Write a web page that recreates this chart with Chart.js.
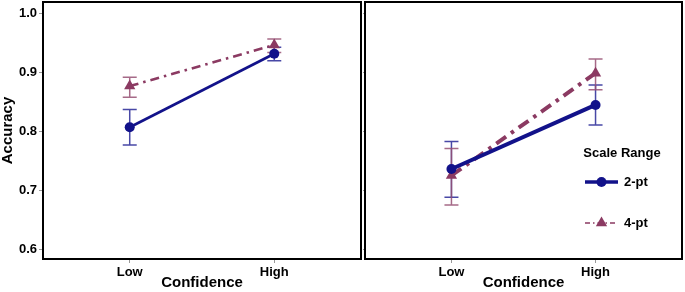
<!DOCTYPE html>
<html>
<head>
<meta charset="utf-8">
<script src="https://cdn.jsdelivr.net/npm/chart.js@4.4.1/dist/chart.umd.min.js"></script>
<style>
    html, body { margin: 0; padding: 0; background: #fff; }
    #wrap { position: relative; width: 685px; height: 292px; }
    #c1 { position: absolute; left: 0; top: 0; }
    #c2 { position: absolute; left: 363px; top: 0; }
</style>
</head>
<body>
<div id="wrap">
    <canvas id="c1" width="363" height="292"></canvas>
    <canvas id="c2" width="322" height="292"></canvas>
</div>
<script>
const categories = ["Low", "High"];
const yTicks = [0.6, 0.7, 0.8, 0.9, 1.0];

// panel 1
const p1TwoPt = [0.807, 0.932];
const p1TwoPtLow = [0.777, 0.920];
const p1TwoPtHigh = [0.837, 0.943];
const p1FourPt = [0.877, 0.947];
const p1FourPtLow = [0.858, 0.934];
const p1FourPtHigh = [0.892, 0.957];

// panel 2
const p2TwoPt = [0.736, 0.845];
const p2TwoPtLow = [0.688, 0.811];
const p2TwoPtHigh = [0.783, 0.879];
const p2FourPt = [0.725, 0.899];
const p2FourPtLow = [0.675, 0.871];
const p2FourPtHigh = [0.771, 0.923];

const NAVY = "#12128a";
const PLUM = "#8b3a62";
const FONT = "'Liberation Sans', Arial, sans-serif";

const toXY = (vals) => vals.map((v, i) => ({ x: i + 1, y: v }));

const noPad = (s) => {
    s.paddingTop = 0;
    s.paddingBottom = 0;
    s.paddingLeft = 0;
    s.paddingRight = 0;
};

const errorBars = {
    id: "errorBars",
    beforeDatasetsDraw(chart) {
        const { ctx, scales: { x, y } } = chart;
        ctx.save();
        chart.data.datasets.forEach((ds) => {
            ctx.strokeStyle = ds.errColor;
            ctx.lineWidth = 1.5;
            ds.errLow.forEach((lo, j) => {
                const px = x.getPixelForValue(j + 1);
                const y1 = y.getPixelForValue(lo);
                const y2 = y.getPixelForValue(ds.errHigh[j]);
                ctx.beginPath();
                ctx.moveTo(px, y1);
                ctx.lineTo(px, y2);
                ctx.moveTo(px - 7, y1);
                ctx.lineTo(px + 7, y1);
                ctx.moveTo(px - 7, y2);
                ctx.lineTo(px + 7, y2);
                ctx.stroke();
            });
        });
        ctx.restore();
    },
};

const panelBorder = {
    id: "panelBorder",
    afterDraw(chart) {
        const { ctx, chartArea: a } = chart;
        ctx.save();
        ctx.strokeStyle = "#000";
        ctx.lineWidth = 2;
        ctx.strokeRect(a.left, a.top, a.right - a.left, a.bottom - a.top);
        ctx.restore();
    },
};

const legendBox = {
    id: "legendBox",
    afterDraw(chart) {
        const { ctx } = chart;
        ctx.save();
        ctx.fillStyle = "#000";
        ctx.font = "bold 13px " + FONT;
        ctx.textAlign = "center";
        ctx.textBaseline = "middle";
        ctx.fillText("Scale Range", 259, 153);

        const rows = [
            { label: "2-pt", y: 182, color: NAVY, width: 3.5, dash: [], style: "circle", r: 5 },
            { label: "4-pt", y: 223, color: PLUM, width: 1.5, dash: [5, 3, 1.5, 3], style: "triangle", r: 6.5 },
        ];
        rows.forEach((row) => {
            ctx.strokeStyle = row.color;
            ctx.lineWidth = row.width;
            ctx.setLineDash(row.dash);
            ctx.beginPath();
            ctx.moveTo(222, row.y);
            ctx.lineTo(255, row.y);
            ctx.stroke();
            ctx.setLineDash([]);
            ctx.fillStyle = row.color;
            Chart.helpers.drawPoint(ctx, { pointStyle: row.style, radius: row.r, borderWidth: 0 }, 238.5, row.y);
            ctx.fillStyle = "#000";
            ctx.textAlign = "left";
            ctx.fillText(row.label, 261, row.y);
        });
        ctx.restore();
    },
};

function makeDatasets(two, twoLo, twoHi, four, fourLo, fourHi, lw, dash) {
    return [
        {
            label: "2-pt",
            data: toXY(two),
            borderColor: NAVY,
            backgroundColor: NAVY,
            borderWidth: lw,
            pointStyle: "circle",
            pointRadius: 5,
            pointBorderWidth: 0,
            errLow: twoLo,
            errHigh: twoHi,
            errColor: "rgba(40,40,150,0.85)",
            order: 1,
        },
        {
            label: "4-pt",
            data: toXY(four),
            borderColor: PLUM,
            backgroundColor: PLUM,
            borderWidth: lw,
            borderDash: dash,
            pointStyle: "triangle",
            pointRadius: 6.5,
            pointBorderWidth: 0,
            errLow: fourLo,
            errHigh: fourHi,
            errColor: "rgba(150,80,115,0.85)",
            order: 2,
        },
    ];
}

function makeOptions(showYLabels, yWidth, rightPad) {
    return {
        responsive: false,
        animation: false,
        layout: { autoPadding: false, padding: { top: 2, right: rightPad, left: 0, bottom: 0 } },
        plugins: { legend: { display: false }, tooltip: { enabled: false } },
        scales: {
            x: {
                type: "linear",
                min: 0.4,
                max: 2.6,
                afterBuildTicks: (s) => { s.ticks = categories.map((c, i) => ({ value: i + 1 })); },
                afterFit: (s) => { s.height = 33; noPad(s); },
                border: { display: false },
                grid: { drawOnChartArea: false, tickLength: 4, color: "#999", lineWidth: 1 },
                ticks: {
                    color: "#000",
                    padding: 2,
                    font: { family: FONT, size: 13, weight: "bold" },
                    callback: (v) => categories[v - 1],
                },
                title: {
                    display: true,
                    text: "Confidence",
                    color: "#000",
                    padding: 0,
                    font: { family: FONT, size: 15, weight: "bold" },
                },
            },
            y: {
                min: 0.583,
                max: 1.02,
                afterBuildTicks: (s) => { s.ticks = yTicks.map((v) => ({ value: v })); },
                afterFit: (s) => { s.width = yWidth; noPad(s); },
                border: { display: false },
                grid: { drawOnChartArea: false, tickLength: 4, color: "#999", lineWidth: 1 },
                ticks: {
                    display: showYLabels,
                    color: "#000",
                    padding: 2,
                    font: { family: FONT, size: 13, weight: "bold" },
                    callback: (v) => v.toFixed(1),
                },
                title: {
                    display: showYLabels,
                    text: "Accuracy",
                    color: "#000",
                    padding: 0,
                    font: { family: FONT, size: 15, weight: "bold", lineHeight: 1 },
                },
            },
        },
    };
}

new Chart(document.getElementById("c1"), {
    type: "line",
    data: {
        datasets: makeDatasets(p1TwoPt, p1TwoPtLow, p1TwoPtHigh, p1FourPt, p1FourPtLow, p1FourPtHigh, 2.6, [9, 5, 2.5, 5]),
    },
    options: makeOptions(true, 43, 2),
    plugins: [errorBars, panelBorder],
});

new Chart(document.getElementById("c2"), {
    type: "line",
    data: {
        datasets: makeDatasets(p2TwoPt, p2TwoPtLow, p2TwoPtHigh, p2FourPt, p2FourPtLow, p2FourPtHigh, 4, [12, 6, 3.5, 6]),
    },
    options: makeOptions(false, 2, 3),
    plugins: [errorBars, panelBorder, legendBox],
});
</script>
</body>
</html>
